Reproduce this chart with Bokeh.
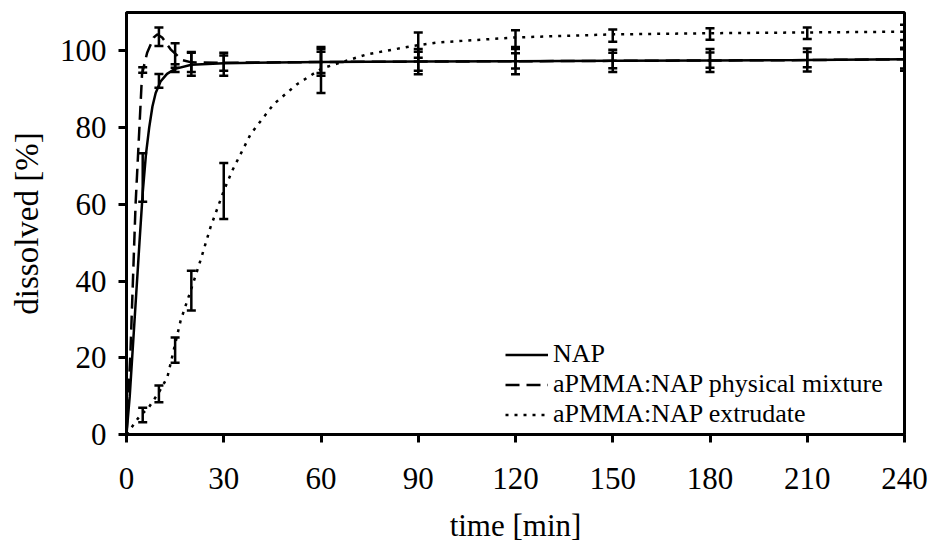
import numpy as np
from bokeh.plotting import figure
from bokeh.models import (Range1d, FixedTicker, Whisker, TeeHead, ColumnDataSource,
                          Legend, LegendItem)
from bokeh.embed import file_html
from bokeh.resources import INLINE

# ---------------- data ----------------
t_points = [0, 5, 10, 15, 20, 30, 60, 90, 120, 150, 180, 210, 240]

nap_mean = [0, 67.0, 92.2, 95.5, 96.6, 96.5, 97.0, 97.2, 97.2, 97.4, 97.5, 97.6, 97.8]
nap_sd   = [0, 6.3, 1.8, 1.0, 3.1, 3.0, 3.5, 3.3, 3.3, 2.9, 3.0, 3.0, 3.0]

pm_mean = [0, 95.0, 103.7, 98.8, 97.0, 96.8, 97.0, 97.3, 97.4, 97.5, 97.6, 97.7, 97.9]
pm_sd   = [0, 0.7, 2.4, 3.2, 2.5, 2.0, 2.8, 2.5, 2.0, 2.0, 2.0, 2.0, 2.5]

ext_mean = [0, 5.1, 10.6, 22.0, 37.5, 63.5, 95.0, 101.5, 103.2, 104.0, 104.4, 104.6, 104.8]
ext_sd   = [0, 1.9, 2.2, 3.3, 5.2, 7.3, 6.0, 3.3, 2.2, 1.6, 1.5, 1.5, 2.0]

# fitted curves
nap_curve_t = [0, 1, 2.5, 4, 5, 6, 7, 8, 9, 10.5, 12.5, 15, 20, 30, 60, 90, 120, 150, 180, 210, 240]
nap_curve_v = [0, 10, 30, 50, 63, 73, 80, 85.5, 89, 92, 94, 95.3, 96.4, 96.8, 97.1, 97.2, 97.3, 97.4, 97.5, 97.6, 97.8]

pm_curve_t = [0, 1.2, 2.8, 4.1, 4.8, 6.4, 8.4, 9.5, 11, 13.6, 17.2, 20, 30, 60, 90, 120, 150, 180, 210, 240]
pm_curve_v = [0, 21, 60, 82, 94, 99.6, 103.5, 104.3, 103.5, 100.4, 97.6, 97.0, 96.9, 97.1, 97.2, 97.3, 97.4, 97.5, 97.6, 97.8]

ext_curve_t = [0, 3.8, 6.9, 10, 12.6, 16.7, 20, 22.8, 25.9, 30, 32.6, 38.3, 45.4, 52.6, 60.2, 74.2, 88.5, 96.2, 120, 150, 180, 210, 240]
ext_curve_v = [0, 4.5, 7.1, 11, 14.9, 29.7, 38, 45.3, 54, 63.5, 68.75, 78.3, 86.1, 91.3, 95.4, 99.1, 101.3, 102.2, 103.5, 104.3, 104.6, 104.8, 105.0]

x_ticks = [0, 30, 60, 90, 120, 150, 180, 210, 240]
y_ticks = [0, 20, 40, 60, 80, 100]

labels = ["NAP", "aPMMA:NAP physical mixture", "aPMMA:NAP extrudate"]

FONT = "Liberation Serif"

# ---------------- figure ----------------
p = figure(width=930, height=548, x_range=Range1d(0, 240), y_range=Range1d(0, 110),
           output_backend="svg", toolbar_location=None,
           min_border_left=126, min_border_top=12, min_border_right=26, min_border_bottom=114)

p.grid.visible = False
p.outline_line_color = "black"
p.outline_line_width = 3
p.background_fill_color = "white"
p.border_fill_color = "white"

p.xaxis.ticker = FixedTicker(ticks=x_ticks)
p.yaxis.ticker = FixedTicker(ticks=y_ticks)
for ax in (p.xaxis[0], p.yaxis[0]):
    ax.axis_line_width = 3
    ax.axis_line_color = "black"
    ax.major_tick_line_width = 3
    ax.major_tick_line_color = "black"
    ax.major_tick_out = 8
    ax.major_tick_in = 0
    ax.minor_tick_line_color = None
    ax.major_label_text_font = FONT
    ax.major_label_text_font_size = "31px"
    ax.major_label_text_color = "black"
    ax.axis_label_text_font = FONT
    ax.axis_label_text_font_style = "normal"
    ax.axis_label_text_color = "black"

p.xaxis.major_label_standoff = 25
p.yaxis.major_label_standoff = 12
p.xaxis.axis_label = "time [min]"
p.xaxis.axis_label_text_font_size = "31px"
p.xaxis.axis_label_standoff = 16
p.yaxis.axis_label = "dissolved [%]"
p.yaxis.axis_label_text_font_size = "33px"
p.yaxis.axis_label_standoff = 12

LW = 2.5
r1 = p.line(nap_curve_t, nap_curve_v, line_color="black", line_width=LW)
r2 = p.line(pm_curve_t, pm_curve_v, line_color="black", line_width=LW, line_dash="14 7")
r3 = p.line(ext_curve_t, ext_curve_v, line_color="black", line_width=LW, line_dash="3 6")

for mean, sd in ((nap_mean, nap_sd), (pm_mean, pm_sd), (ext_mean, ext_sd)):
    m = np.array(mean)
    s = np.array(sd)
    src = ColumnDataSource(dict(t=t_points, up=m + s, lo=m - s))
    w = Whisker(base="t", upper="up", lower="lo", source=src,
                line_color="black", line_width=LW,
                upper_head=TeeHead(size=9, line_width=LW, line_color="black"),
                lower_head=TeeHead(size=9, line_width=LW, line_color="black"))
    p.add_layout(w)

legend = Legend(items=[LegendItem(label=labels[0], renderers=[r1]),
                       LegendItem(label=labels[1], renderers=[r2]),
                       LegendItem(label=labels[2], renderers=[r3])],
                location=(379, 5), orientation="vertical",
                border_line_color=None, background_fill_alpha=0,
                padding=0, margin=0, spacing=0,
                glyph_width=43, glyph_height=27, label_height=27, label_standoff=5,
                label_text_font=FONT, label_text_font_size="26px",
                label_text_color="black", label_text_baseline="middle")
p.add_layout(legend)

open("out.html", "w").write(file_html(p, INLINE))
